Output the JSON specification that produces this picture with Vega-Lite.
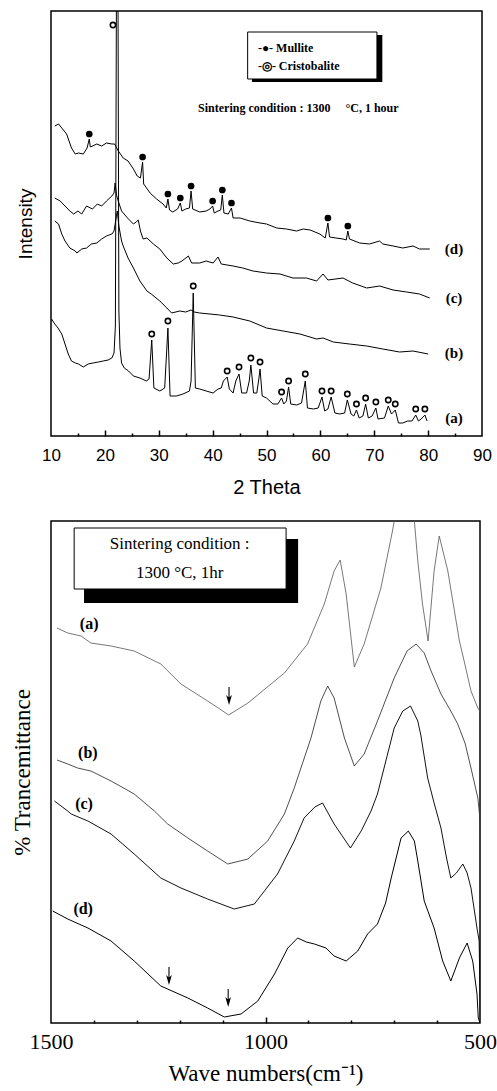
{
  "$schema": "https://vega.github.io/schema/vega-lite/v6.json",
  "padding": {"left": 10, "top": 10, "right": 0, "bottom": 0},
  "background": "white",
  "config": {"view": {"stroke": "black", "strokeWidth": 1.5}},
  "spacing": 85,
  "bounds": "flush",
  "datasets": {
    "xrd": [
      {"sample":"d","theta":10.7,"intensity":310},{"sample":"d","theta":11.4,"intensity":312},{"sample":"d","theta":12.0,"intensity":308},{"sample":"d","theta":12.9,"intensity":302},{"sample":"d","theta":13.8,"intensity":288},{"sample":"d","theta":14.5,"intensity":282},{"sample":"d","theta":15.1,"intensity":283},{"sample":"d","theta":16.0,"intensity":282},{"sample":"d","theta":16.7,"intensity":288},{"sample":"d","theta":17.1,"intensity":297},{"sample":"d","theta":17.3,"intensity":289},{"sample":"d","theta":18.5,"intensity":292},{"sample":"d","theta":19.4,"intensity":290},{"sample":"d","theta":20.3,"intensity":293},{"sample":"d","theta":21.3,"intensity":292},{"sample":"d","theta":21.8,"intensity":292},{"sample":"d","theta":22.5,"intensity":285},{"sample":"d","theta":23.4,"intensity":278},{"sample":"d","theta":24.3,"intensity":275},{"sample":"d","theta":25.3,"intensity":267},{"sample":"d","theta":26.0,"intensity":260},{"sample":"d","theta":26.6,"intensity":258},{"sample":"d","theta":27.0,"intensity":274},{"sample":"d","theta":27.2,"intensity":252},{"sample":"d","theta":28.4,"intensity":243},{"sample":"d","theta":29.6,"intensity":237},{"sample":"d","theta":30.8,"intensity":232},{"sample":"d","theta":31.4,"intensity":228},{"sample":"d","theta":31.7,"intensity":237},{"sample":"d","theta":32.0,"intensity":226},{"sample":"d","theta":32.6,"intensity":224},{"sample":"d","theta":33.5,"intensity":227},{"sample":"d","theta":34.0,"intensity":233},{"sample":"d","theta":34.3,"intensity":225},{"sample":"d","theta":35.0,"intensity":227},{"sample":"d","theta":35.7,"intensity":228},{"sample":"d","theta":36.0,"intensity":245},{"sample":"d","theta":36.3,"intensity":227},{"sample":"d","theta":37.6,"intensity":224},{"sample":"d","theta":38.8,"intensity":225},{"sample":"d","theta":39.5,"intensity":227},{"sample":"d","theta":40.0,"intensity":230},{"sample":"d","theta":40.3,"intensity":223},{"sample":"d","theta":41.0,"intensity":225},{"sample":"d","theta":41.5,"intensity":226},{"sample":"d","theta":41.8,"intensity":241},{"sample":"d","theta":42.1,"intensity":223},{"sample":"d","theta":42.9,"intensity":222},{"sample":"d","theta":43.5,"intensity":228},{"sample":"d","theta":43.8,"intensity":218},{"sample":"d","theta":45.1,"intensity":218},{"sample":"d","theta":46.9,"intensity":215},{"sample":"d","theta":48.8,"intensity":213},{"sample":"d","theta":50.0,"intensity":212},{"sample":"d","theta":51.9,"intensity":208},{"sample":"d","theta":53.7,"intensity":207},{"sample":"d","theta":55.6,"intensity":205},{"sample":"d","theta":56.8,"intensity":207},{"sample":"d","theta":58.1,"intensity":206},{"sample":"d","theta":59.9,"intensity":202},{"sample":"d","theta":60.9,"intensity":198},{"sample":"d","theta":61.4,"intensity":213},{"sample":"d","theta":61.7,"intensity":199},{"sample":"d","theta":62.9,"intensity":198},{"sample":"d","theta":64.2,"intensity":197},{"sample":"d","theta":64.8,"intensity":196},{"sample":"d","theta":65.1,"intensity":205},{"sample":"d","theta":65.4,"intensity":197},{"sample":"d","theta":67.3,"intensity":193},{"sample":"d","theta":69.1,"intensity":192},{"sample":"d","theta":71.0,"intensity":195},{"sample":"d","theta":71.6,"intensity":192},{"sample":"d","theta":73.5,"intensity":190},{"sample":"d","theta":75.3,"intensity":188},{"sample":"d","theta":77.2,"intensity":190},{"sample":"d","theta":78.4,"intensity":187},{"sample":"d","theta":80.3,"intensity":187},
      {"sample":"c","theta":10.7,"intensity":238},{"sample":"c","theta":11.7,"intensity":235},{"sample":"c","theta":12.6,"intensity":230},{"sample":"c","theta":13.5,"intensity":225},{"sample":"c","theta":14.2,"intensity":222},{"sample":"c","theta":15.0,"intensity":225},{"sample":"c","theta":15.7,"intensity":222},{"sample":"c","theta":16.6,"intensity":230},{"sample":"c","theta":17.7,"intensity":227},{"sample":"c","theta":18.6,"intensity":232},{"sample":"c","theta":19.4,"intensity":230},{"sample":"c","theta":20.3,"intensity":235},{"sample":"c","theta":21.3,"intensity":240},{"sample":"c","theta":21.7,"intensity":243},{"sample":"c","theta":21.9,"intensity":253},{"sample":"c","theta":22.2,"intensity":240},{"sample":"c","theta":22.6,"intensity":233},{"sample":"c","theta":23.1,"intensity":225},{"sample":"c","theta":24.2,"intensity":218},{"sample":"c","theta":25.3,"intensity":212},{"sample":"c","theta":25.8,"intensity":214},{"sample":"c","theta":26.2,"intensity":216},{"sample":"c","theta":26.6,"intensity":205},{"sample":"c","theta":27.1,"intensity":197},{"sample":"c","theta":27.8,"intensity":198},{"sample":"c","theta":29.0,"intensity":192},{"sample":"c","theta":30.2,"intensity":187},{"sample":"c","theta":31.5,"intensity":178},{"sample":"c","theta":32.7,"intensity":172},{"sample":"c","theta":33.6,"intensity":173},{"sample":"c","theta":34.3,"intensity":175},{"sample":"c","theta":35.5,"intensity":180},{"sample":"c","theta":36.1,"intensity":173},{"sample":"c","theta":37.6,"intensity":173},{"sample":"c","theta":38.8,"intensity":175},{"sample":"c","theta":40.1,"intensity":173},{"sample":"c","theta":41.0,"intensity":179},{"sample":"c","theta":41.6,"intensity":172},{"sample":"c","theta":43.8,"intensity":170},{"sample":"c","theta":45.6,"intensity":168},{"sample":"c","theta":47.5,"intensity":165},{"sample":"c","theta":50.0,"intensity":163},{"sample":"c","theta":52.5,"intensity":162},{"sample":"c","theta":54.9,"intensity":158},{"sample":"c","theta":57.4,"intensity":158},{"sample":"c","theta":59.3,"intensity":155},{"sample":"c","theta":60.5,"intensity":162},{"sample":"c","theta":61.4,"intensity":156},{"sample":"c","theta":64.2,"intensity":158},{"sample":"c","theta":66.0,"intensity":153},{"sample":"c","theta":68.6,"intensity":148},{"sample":"c","theta":71.0,"intensity":150},{"sample":"c","theta":73.5,"intensity":146},{"sample":"c","theta":76.0,"intensity":144},{"sample":"c","theta":78.4,"intensity":142},{"sample":"c","theta":80.3,"intensity":138},
      {"sample":"b","theta":10.7,"intensity":215},{"sample":"b","theta":11.4,"intensity":212},{"sample":"b","theta":12.0,"intensity":202},{"sample":"b","theta":12.6,"intensity":195},{"sample":"b","theta":13.5,"intensity":188},{"sample":"b","theta":14.5,"intensity":185},{"sample":"b","theta":14.8,"intensity":183},{"sample":"b","theta":15.7,"intensity":187},{"sample":"b","theta":16.6,"intensity":188},{"sample":"b","theta":17.5,"intensity":192},{"sample":"b","theta":18.5,"intensity":193},{"sample":"b","theta":19.4,"intensity":197},{"sample":"b","theta":20.3,"intensity":200},{"sample":"b","theta":21.3,"intensity":202},{"sample":"b","theta":21.7,"intensity":205},{"sample":"b","theta":22.0,"intensity":215},{"sample":"b","theta":22.3,"intensity":225},{"sample":"b","theta":22.6,"intensity":210},{"sample":"b","theta":23.1,"intensity":195},{"sample":"b","theta":23.4,"intensity":190},{"sample":"b","theta":24.3,"intensity":178},{"sample":"b","theta":25.3,"intensity":168},{"sample":"b","theta":26.5,"intensity":155},{"sample":"b","theta":27.8,"intensity":145},{"sample":"b","theta":28.6,"intensity":142},{"sample":"b","theta":30.2,"intensity":135},{"sample":"b","theta":31.5,"intensity":128},{"sample":"b","theta":32.4,"intensity":123},{"sample":"b","theta":33.9,"intensity":125},{"sample":"b","theta":35.0,"intensity":124},{"sample":"b","theta":36.0,"intensity":126},{"sample":"b","theta":36.6,"intensity":124},{"sample":"b","theta":37.6,"intensity":123},{"sample":"b","theta":39.5,"intensity":122},{"sample":"b","theta":41.3,"intensity":121},{"sample":"b","theta":43.8,"intensity":119},{"sample":"b","theta":46.9,"intensity":115},{"sample":"b","theta":50.0,"intensity":108},{"sample":"b","theta":53.1,"intensity":105},{"sample":"b","theta":56.2,"intensity":102},{"sample":"b","theta":59.3,"intensity":97},{"sample":"b","theta":60.5,"intensity":98},{"sample":"b","theta":62.4,"intensity":94},{"sample":"b","theta":65.4,"intensity":92},{"sample":"b","theta":68.6,"intensity":90},{"sample":"b","theta":71.6,"intensity":87},{"sample":"b","theta":74.7,"intensity":84},{"sample":"b","theta":77.2,"intensity":85},{"sample":"b","theta":80.0,"intensity":82},
      {"sample":"a","theta":10.1,"intensity":117},{"sample":"a","theta":10.7,"intensity":112},{"sample":"a","theta":11.3,"intensity":108},{"sample":"a","theta":12.0,"intensity":102},{"sample":"a","theta":12.6,"intensity":92},{"sample":"a","theta":13.2,"intensity":82},{"sample":"a","theta":13.8,"intensity":75},{"sample":"a","theta":14.5,"intensity":73},{"sample":"a","theta":15.1,"intensity":72},{"sample":"a","theta":16.0,"intensity":69},{"sample":"a","theta":16.9,"intensity":72},{"sample":"a","theta":17.8,"intensity":73},{"sample":"a","theta":18.8,"intensity":74},{"sample":"a","theta":19.7,"intensity":75},{"sample":"a","theta":20.6,"intensity":76},{"sample":"a","theta":21.3,"intensity":78},{"sample":"a","theta":21.7,"intensity":83},{"sample":"a","theta":21.95,"intensity":110},{"sample":"a","theta":22.3,"intensity":700},{"sample":"a","theta":22.6,"intensity":125},{"sample":"a","theta":22.8,"intensity":88},{"sample":"a","theta":23.1,"intensity":73},{"sample":"a","theta":23.6,"intensity":68},{"sample":"a","theta":24.4,"intensity":65},{"sample":"a","theta":25.3,"intensity":60},{"sample":"a","theta":26.5,"intensity":58},{"sample":"a","theta":27.7,"intensity":55},{"sample":"a","theta":28.2,"intensity":57},{"sample":"a","theta":28.7,"intensity":96},{"sample":"a","theta":29.1,"intensity":48},{"sample":"a","theta":30.2,"intensity":45},{"sample":"a","theta":31.1,"intensity":48},{"sample":"a","theta":31.7,"intensity":108},{"sample":"a","theta":32.1,"intensity":40},{"sample":"a","theta":33.3,"intensity":40},{"sample":"a","theta":34.5,"intensity":42},{"sample":"a","theta":35.7,"intensity":45},{"sample":"a","theta":36.0,"intensity":55},{"sample":"a","theta":36.4,"intensity":143},{"sample":"a","theta":36.8,"intensity":48},{"sample":"a","theta":37.6,"intensity":47},{"sample":"a","theta":38.8,"intensity":45},{"sample":"a","theta":40.1,"intensity":43},{"sample":"a","theta":41.0,"intensity":47},{"sample":"a","theta":41.6,"intensity":48},{"sample":"a","theta":42.0,"intensity":55},{"sample":"a","theta":42.7,"intensity":59},{"sample":"a","theta":43.1,"intensity":47},{"sample":"a","theta":43.8,"intensity":43},{"sample":"a","theta":44.3,"intensity":55},{"sample":"a","theta":44.9,"intensity":62},{"sample":"a","theta":45.4,"intensity":43},{"sample":"a","theta":46.3,"intensity":43},{"sample":"a","theta":46.8,"intensity":55},{"sample":"a","theta":47.1,"intensity":71},{"sample":"a","theta":47.6,"intensity":43},{"sample":"a","theta":48.2,"intensity":43},{"sample":"a","theta":48.6,"intensity":58},{"sample":"a","theta":48.8,"intensity":67},{"sample":"a","theta":49.2,"intensity":40},{"sample":"a","theta":50.0,"intensity":38},{"sample":"a","theta":51.2,"intensity":32},{"sample":"a","theta":52.1,"intensity":32},{"sample":"a","theta":52.8,"intensity":38},{"sample":"a","theta":53.2,"intensity":32},{"sample":"a","theta":53.7,"intensity":35},{"sample":"a","theta":54.1,"intensity":49},{"sample":"a","theta":54.5,"intensity":32},{"sample":"a","theta":55.6,"intensity":31},{"sample":"a","theta":56.5,"intensity":33},{"sample":"a","theta":57.2,"intensity":55},{"sample":"a","theta":57.6,"intensity":28},{"sample":"a","theta":58.7,"intensity":27},{"sample":"a","theta":59.6,"intensity":28},{"sample":"a","theta":60.3,"intensity":39},{"sample":"a","theta":60.8,"intensity":25},{"sample":"a","theta":61.4,"intensity":27},{"sample":"a","theta":62.0,"intensity":39},{"sample":"a","theta":62.7,"intensity":23},{"sample":"a","theta":63.6,"intensity":22},{"sample":"a","theta":64.5,"intensity":23},{"sample":"a","theta":65.0,"intensity":36},{"sample":"a","theta":65.7,"intensity":22},{"sample":"a","theta":66.2,"intensity":20},{"sample":"a","theta":66.7,"intensity":26},{"sample":"a","theta":67.2,"intensity":18},{"sample":"a","theta":67.9,"intensity":20},{"sample":"a","theta":68.4,"intensity":32},{"sample":"a","theta":68.9,"intensity":18},{"sample":"a","theta":69.6,"intensity":20},{"sample":"a","theta":70.3,"intensity":28},{"sample":"a","theta":70.7,"intensity":17},{"sample":"a","theta":71.9,"intensity":18},{"sample":"a","theta":72.6,"intensity":30},{"sample":"a","theta":73.2,"intensity":22},{"sample":"a","theta":73.9,"intensity":26},{"sample":"a","theta":74.5,"intensity":13},{"sample":"a","theta":75.3,"intensity":13},{"sample":"a","theta":76.2,"intensity":15},{"sample":"a","theta":77.0,"intensity":15},{"sample":"a","theta":77.7,"intensity":21},{"sample":"a","theta":78.2,"intensity":15},{"sample":"a","theta":78.7,"intensity":17},{"sample":"a","theta":79.4,"intensity":21},{"sample":"a","theta":79.8,"intensity":15}
    ],
    "mullite": [
      {"theta":17.1,"intensity":302},{"theta":27.0,"intensity":279},{"theta":31.7,"intensity":242},{"theta":34.0,"intensity":238},{"theta":36.0,"intensity":250},{"theta":40.0,"intensity":235},{"theta":41.8,"intensity":246},{"theta":43.5,"intensity":233},{"theta":61.4,"intensity":218},{"theta":65.1,"intensity":210}
    ],
    "cristobalite": [
      {"theta":21.5,"intensity":411},{"theta":28.7,"intensity":102},{"theta":31.7,"intensity":115},{"theta":36.4,"intensity":150},{"theta":42.7,"intensity":65},{"theta":44.9,"intensity":69},{"theta":47.1,"intensity":78},{"theta":48.8,"intensity":74},{"theta":52.8,"intensity":44},{"theta":54.1,"intensity":55},{"theta":57.2,"intensity":62},{"theta":60.3,"intensity":45},{"theta":62.0,"intensity":45},{"theta":65.0,"intensity":42},{"theta":66.7,"intensity":32},{"theta":68.4,"intensity":38},{"theta":70.3,"intensity":34},{"theta":72.6,"intensity":36},{"theta":73.9,"intensity":32},{"theta":77.7,"intensity":27},{"theta":79.4,"intensity":27}
    ],
    "xrdLabels": [
      {"theta":84.8,"intensity":187,"label":"(d)"},{"theta":84.8,"intensity":138,"label":"(c)"},{"theta":84.8,"intensity":83,"label":"(b)"},{"theta":84.8,"intensity":18,"label":"(a)"}
    ],
    "xrdBoxes": [
      {"kind":"shadow","theta":47.3,"theta2":71.5,"intensity":354,"intensity2":401},
      {"kind":"box","theta":46.5,"theta2":70.5,"intensity":357,"intensity2":404}
    ],
    "xrdNotes": [
      {"theta":48.4,"intensity":388,"label":"-●- Mullite"},
      {"theta":48.4,"intensity":370,"label":"-◎- Cristobalite"},
      {"theta":37.3,"intensity":328,"label":"Sintering condition : 1300\u00a0\u00a0\u00a0\u00a0\u00a0°C, 1 hour"}
    ],
    "ftir": [
      {"sample":"a","wn":1486,"t":395},{"sample":"a","wn":1461,"t":390},{"sample":"a","wn":1430,"t":387},{"sample":"a","wn":1407,"t":380},{"sample":"a","wn":1360,"t":377},{"sample":"a","wn":1306,"t":372},{"sample":"a","wn":1244,"t":359},{"sample":"a","wn":1197,"t":339},{"sample":"a","wn":1135,"t":322},{"sample":"a","wn":1110,"t":315},{"sample":"a","wn":1086,"t":308},{"sample":"a","wn":1041,"t":320},{"sample":"a","wn":956,"t":350},{"sample":"a","wn":902,"t":379},{"sample":"a","wn":863,"t":419},{"sample":"a","wn":840,"t":452},{"sample":"a","wn":826,"t":463},{"sample":"a","wn":812,"t":429},{"sample":"a","wn":793,"t":356},{"sample":"a","wn":770,"t":379},{"sample":"a","wn":731,"t":435},{"sample":"a","wn":704,"t":492},{"sample":"a","wn":676,"t":560},{"sample":"a","wn":653,"t":502},{"sample":"a","wn":645,"t":462},{"sample":"a","wn":634,"t":419},{"sample":"a","wn":621,"t":382},{"sample":"a","wn":607,"t":452},{"sample":"a","wn":595,"t":487},{"sample":"a","wn":575,"t":452},{"sample":"a","wn":548,"t":382},{"sample":"a","wn":537,"t":362},{"sample":"a","wn":521,"t":332},{"sample":"a","wn":505,"t":315},{"sample":"a","wn":498,"t":310},
      {"sample":"b","wn":1486,"t":263},{"sample":"b","wn":1461,"t":259},{"sample":"b","wn":1438,"t":255},{"sample":"b","wn":1407,"t":252},{"sample":"b","wn":1360,"t":242},{"sample":"b","wn":1306,"t":229},{"sample":"b","wn":1259,"t":212},{"sample":"b","wn":1228,"t":199},{"sample":"b","wn":1181,"t":185},{"sample":"b","wn":1135,"t":172},{"sample":"b","wn":1088,"t":159},{"sample":"b","wn":1041,"t":164},{"sample":"b","wn":995,"t":182},{"sample":"b","wn":956,"t":209},{"sample":"b","wn":933,"t":235},{"sample":"b","wn":894,"t":285},{"sample":"b","wn":871,"t":322},{"sample":"b","wn":855,"t":337},{"sample":"b","wn":840,"t":325},{"sample":"b","wn":816,"t":285},{"sample":"b","wn":793,"t":257},{"sample":"b","wn":770,"t":269},{"sample":"b","wn":739,"t":302},{"sample":"b","wn":700,"t":345},{"sample":"b","wn":670,"t":372},{"sample":"b","wn":649,"t":379},{"sample":"b","wn":630,"t":370},{"sample":"b","wn":614,"t":352},{"sample":"b","wn":591,"t":329},{"sample":"b","wn":568,"t":312},{"sample":"b","wn":552,"t":299},{"sample":"b","wn":535,"t":280},{"sample":"b","wn":521,"t":255},{"sample":"b","wn":505,"t":225},{"sample":"b","wn":499,"t":200},{"sample":"b","wn":498,"t":0},
      {"sample":"c","wn":1492,"t":222},{"sample":"c","wn":1461,"t":212},{"sample":"c","wn":1453,"t":209},{"sample":"c","wn":1414,"t":202},{"sample":"c","wn":1360,"t":189},{"sample":"c","wn":1306,"t":169},{"sample":"c","wn":1244,"t":145},{"sample":"c","wn":1197,"t":135},{"sample":"c","wn":1135,"t":124},{"sample":"c","wn":1073,"t":114},{"sample":"c","wn":1026,"t":119},{"sample":"c","wn":972,"t":149},{"sample":"c","wn":933,"t":182},{"sample":"c","wn":910,"t":205},{"sample":"c","wn":885,"t":216},{"sample":"c","wn":867,"t":220},{"sample":"c","wn":840,"t":199},{"sample":"c","wn":802,"t":175},{"sample":"c","wn":777,"t":192},{"sample":"c","wn":754,"t":212},{"sample":"c","wn":739,"t":229},{"sample":"c","wn":700,"t":295},{"sample":"c","wn":680,"t":312},{"sample":"c","wn":662,"t":317},{"sample":"c","wn":645,"t":302},{"sample":"c","wn":638,"t":288},{"sample":"c","wn":622,"t":245},{"sample":"c","wn":607,"t":220},{"sample":"c","wn":591,"t":195},{"sample":"c","wn":578,"t":165},{"sample":"c","wn":568,"t":145},{"sample":"c","wn":555,"t":150},{"sample":"c","wn":540,"t":159},{"sample":"c","wn":530,"t":150},{"sample":"c","wn":521,"t":135},{"sample":"c","wn":507,"t":95},{"sample":"c","wn":502,"t":82},{"sample":"c","wn":499,"t":0},
      {"sample":"d","wn":1496,"t":112},{"sample":"d","wn":1461,"t":104},{"sample":"d","wn":1414,"t":95},{"sample":"d","wn":1360,"t":82},{"sample":"d","wn":1306,"t":62},{"sample":"d","wn":1244,"t":37},{"sample":"d","wn":1181,"t":25},{"sample":"d","wn":1135,"t":15},{"sample":"d","wn":1096,"t":6},{"sample":"d","wn":1057,"t":9},{"sample":"d","wn":1018,"t":22},{"sample":"d","wn":979,"t":49},{"sample":"d","wn":948,"t":75},{"sample":"d","wn":925,"t":85},{"sample":"d","wn":905,"t":81},{"sample":"d","wn":886,"t":79},{"sample":"d","wn":859,"t":75},{"sample":"d","wn":840,"t":67},{"sample":"d","wn":812,"t":62},{"sample":"d","wn":785,"t":72},{"sample":"d","wn":762,"t":89},{"sample":"d","wn":739,"t":99},{"sample":"d","wn":720,"t":120},{"sample":"d","wn":707,"t":145},{"sample":"d","wn":684,"t":185},{"sample":"d","wn":667,"t":192},{"sample":"d","wn":653,"t":182},{"sample":"d","wn":645,"t":162},{"sample":"d","wn":630,"t":122},{"sample":"d","wn":607,"t":95},{"sample":"d","wn":587,"t":62},{"sample":"d","wn":568,"t":42},{"sample":"d","wn":548,"t":65},{"sample":"d","wn":530,"t":80},{"sample":"d","wn":517,"t":62},{"sample":"d","wn":507,"t":29},{"sample":"d","wn":504,"t":5},{"sample":"d","wn":500,"t":0}
    ],
    "ftirLabels": [
      {"wn":1411,"t":399,"label":"(a)"},{"wn":1414,"t":270,"label":"(b)"},{"wn":1423,"t":219,"label":"(c)"},{"wn":1425,"t":114,"label":"(d)"}
    ],
    "arrows": [
      {"wn":1085,"t":327},{"wn":1225,"t":47},{"wn":1087,"t":25}
    ],
    "ftirBoxes": [
      {"kind":"shadow","wn":1423,"wn2":924,"t":420,"t2":484},
      {"kind":"box","wn":1446,"wn2":952,"t":434,"t2":495}
    ],
    "ftirNotes": [
      {"wn":1200,"t":479,"label":"Sintering condition :"},
      {"wn":1200,"t":450,"label":"1300 °C, 1hr"}
    ]
  },
  "vconcat": [
    {
      "width": 431,
      "height": 425,
      "resolve": {"axis": {"x": "independent"}},
      "layer": [
        {
          "data": {"name": "xrd"},
          "mark": {"type": "line", "clip": true, "color": "black", "strokeWidth": 1},
          "encoding": {
            "x": {
              "field": "theta", "type": "quantitative",
              "scale": {"domain": [10, 90], "nice": false, "zero": false},
              "axis": {
                "orient": "bottom",
                "title": "2 Theta",
                "values": [10,20,30,40,50,60,70,80,90],
                "labelOverlap": false, "labelFlush": false,
                "ticks": false,
                "labelPadding": 11,
                "domain": false, "grid": false,
                "labelFont": "Liberation Sans", "labelFontSize": 17, "labelColor": "black",
                "titleFont": "Liberation Sans", "titleFontSize": 20, "titleFontWeight": "normal", "titleColor": "black",
                "titlePadding": 14
              }
            },
            "y": {
              "field": "intensity", "type": "quantitative",
              "scale": {"domain": [0, 425], "nice": false, "zero": false},
              "axis": {
                "title": "Intensity", "ticks": false, "labels": false, "domain": false, "grid": false,
                "titleFont": "Liberation Sans", "titleFontSize": 19, "titleFontWeight": "normal", "titleColor": "black",
                "titlePadding": 16
              }
            },
            "detail": {"field": "sample"}
          }
        },
        {
          "data": {"name": "xrdLabels"},
          "mark": {"type": "text", "font": "Liberation Serif", "fontWeight": "bold", "fontSize": 15, "color": "black", "align": "center", "baseline": "middle"},
          "encoding": {
            "x": {
              "field": "theta", "type": "quantitative",
              "axis": {
                "orient": "top", "offset": -425,
                "title": null, "labels": false, "domain": false, "grid": false,
                "values": [20,30,40,50,60,70,80],
                "ticks": true, "tickSize": 6,
                "tickColor": "black", "tickWidth": 1.5
              }
            },
            "y": {"field": "intensity", "type": "quantitative"},
            "text": {"field": "label"}
          }
        },
        {
          "data": {"name": "mullite"},
          "mark": {"type": "point", "shape": "circle", "filled": true, "color": "black", "size": 45, "opacity": 1},
          "encoding": {
            "x": {
              "field": "theta", "type": "quantitative",
              "axis": {
                "orient": "top", "offset": -425,
                "title": null, "labels": false, "domain": false, "grid": false,
                "values": [15,25,35,45,55,65,75,85],
                "ticks": true, "tickSize": 3,
                "tickColor": "black", "tickWidth": 1.5
              }
            },
            "y": {"field": "intensity", "type": "quantitative"}
          }
        },
        {
          "data": {"name": "cristobalite"},
          "mark": {"type": "point", "shape": "circle", "filled": false, "color": "black", "strokeWidth": 1.6, "size": 28, "opacity": 1},
          "encoding": {
            "x": {"field": "theta", "type": "quantitative", "axis": null},
            "y": {"field": "intensity", "type": "quantitative"}
          }
        },
        {
          "data": {"name": "xrdBoxes"},
          "transform": [{"filter": "datum.kind === 'shadow'"}],
          "mark": {"type": "rect", "color": "black"},
          "encoding": {
            "x": {"field": "theta", "type": "quantitative", "axis": null},
            "x2": {"field": "theta2"},
            "y": {"field": "intensity", "type": "quantitative"},
            "y2": {"field": "intensity2"}
          }
        },
        {
          "data": {"name": "xrdBoxes"},
          "transform": [{"filter": "datum.kind === 'box'"}],
          "mark": {"type": "rect", "fill": "white", "stroke": "black", "strokeWidth": 1},
          "encoding": {
            "x": {"field": "theta", "type": "quantitative", "axis": null},
            "x2": {"field": "theta2"},
            "y": {"field": "intensity", "type": "quantitative"},
            "y2": {"field": "intensity2"}
          }
        },
        {
          "data": {"name": "xrdNotes"},
          "mark": {"type": "text", "font": "Liberation Serif", "fontWeight": "bold", "fontSize": 12, "color": "black", "align": "left", "baseline": "middle"},
          "encoding": {
            "x": {"field": "theta", "type": "quantitative", "axis": null},
            "y": {"field": "intensity", "type": "quantitative"},
            "text": {"field": "label"}
          }
        }
      ]
    },
    {
      "width": 429,
      "height": 502,
      "resolve": {"axis": {"x": "independent"}},
      "layer": [
        {
          "data": {"name": "ftir"},
          "mark": {"type": "line", "clip": true},
          "encoding": {
            "x": {
              "field": "wn", "type": "quantitative",
              "scale": {"domain": [500, 1500], "reverse": true, "nice": false, "zero": false},
              "axis": {
                "orient": "bottom",
                "title": "Wave numbers(cm⁻¹)",
                "values": [500,1000,1500],
                "format": "d",
                "labelOverlap": false, "labelFlush": false,
                "ticks": false,
                "labelPadding": 8,
                "domain": false, "grid": false,
                "labelFont": "Liberation Serif", "labelFontSize": 22, "labelColor": "black",
                "titleFont": "Liberation Serif", "titleFontSize": 23, "titleFontWeight": "normal", "titleColor": "black",
                "titlePadding": 10
              }
            },
            "y": {
              "field": "t", "type": "quantitative",
              "scale": {"domain": [0, 502], "nice": false, "zero": false},
              "axis": {
                "title": "% Trancemittance", "ticks": false, "labels": false, "domain": false, "grid": false,
                "titleFont": "Liberation Serif", "titleFontSize": 23, "titleFontWeight": "normal", "titleColor": "black",
                "titlePadding": 17
              }
            },
            "detail": {"field": "sample"},
            "color": {"field": "sample", "type": "nominal", "scale": {"domain": ["a","b","c","d"], "range": ["#555555","#333333","#000000","#000000"]}, "legend": null},
            "strokeWidth": {"field": "sample", "type": "nominal", "scale": {"domain": ["a","b","c","d"], "range": [0.8, 1, 1.3, 1.3]}, "legend": null}
          }
        },
        {
          "data": {"name": "ftirLabels"},
          "mark": {"type": "text", "font": "Liberation Serif", "fontWeight": "bold", "fontSize": 16, "color": "black", "align": "center", "baseline": "middle"},
          "encoding": {
            "x": {
              "field": "wn", "type": "quantitative",
              "axis": {
                "orient": "top", "offset": -502,
                "title": null, "labels": false, "domain": false, "grid": false,
                "values": [1000],
                "ticks": true, "tickSize": 6,
                "tickColor": "black", "tickWidth": 1.5
              }
            },
            "y": {"field": "t", "type": "quantitative"},
            "text": {"field": "label"}
          }
        },
        {
          "data": {"name": "arrows"},
          "mark": {"type": "point", "shape": "M-0.06,-1L0.06,-1L0.06,0.15L0.32,-0.1L0,1L-0.32,-0.1L-0.06,0.15Z", "filled": true, "color": "black", "size": 324, "opacity": 1, "strokeWidth": 0},
          "encoding": {
            "x": {
              "field": "wn", "type": "quantitative",
              "axis": {
                "orient": "top", "offset": -502,
                "title": null, "labels": false, "domain": false, "grid": false,
                "values": [600,700,800,900,1100,1200,1300,1400],
                "ticks": true, "tickSize": 3,
                "tickColor": "black", "tickWidth": 1.5
              }
            },
            "y": {"field": "t", "type": "quantitative"}
          }
        },
        {
          "data": {"name": "ftirBoxes"},
          "transform": [{"filter": "datum.kind === 'shadow'"}],
          "mark": {"type": "rect", "color": "black"},
          "encoding": {
            "x": {"field": "wn", "type": "quantitative", "axis": null},
            "x2": {"field": "wn2"},
            "y": {"field": "t", "type": "quantitative"},
            "y2": {"field": "t2"}
          }
        },
        {
          "data": {"name": "ftirBoxes"},
          "transform": [{"filter": "datum.kind === 'box'"}],
          "mark": {"type": "rect", "fill": "white", "stroke": "black", "strokeWidth": 1},
          "encoding": {
            "x": {"field": "wn", "type": "quantitative", "axis": null},
            "x2": {"field": "wn2"},
            "y": {"field": "t", "type": "quantitative"},
            "y2": {"field": "t2"}
          }
        },
        {
          "data": {"name": "ftirNotes"},
          "mark": {"type": "text", "font": "Liberation Serif", "fontSize": 17, "color": "black", "align": "center", "baseline": "middle"},
          "encoding": {
            "x": {"field": "wn", "type": "quantitative", "axis": null},
            "y": {"field": "t", "type": "quantitative"},
            "text": {"field": "label"}
          }
        }
      ]
    }
  ]
}
